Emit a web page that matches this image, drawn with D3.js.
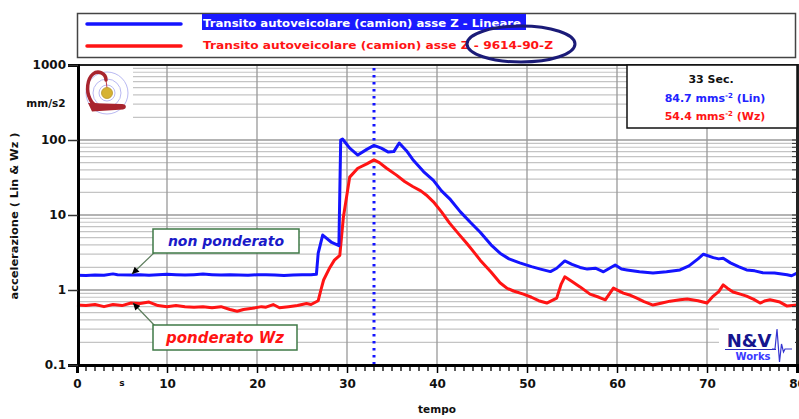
<!DOCTYPE html>
<html>
<head>
<meta charset="utf-8">
<script src="https://cdn.jsdelivr.net/npm/d3@7"></script>
<style>
  html, body { margin: 0; padding: 0; background: #fff; }
  svg { display: block; }
  text { font-family: "Comic Sans MS", "DejaVu Sans", sans-serif; font-weight: bold; }
</style>
</head>
<body>
<svg id="chart" width="799" height="419"></svg>
<script>
// ---- series: time (s) and acceleration (mm/s2) ----
const timeLin = [0, 1, 2, 3, 4, 4.5, 6, 7, 8, 9, 10, 11, 12, 13, 14, 15, 16, 17, 18, 19, 20, 21, 22, 23, 24, 25, 26, 26.6,
  26.8, 27.3, 28.3, 29.1, 29.3, 29.5, 30.3, 31.2, 32.2, 33, 33.8, 34.6, 35.2, 35.8, 36.6, 37.3, 38.5, 39.6, 40.5, 41.5,
  42.6, 43.7, 44.8, 46, 47, 48, 49.2, 50.5, 51.5, 52.6, 53.3, 54.2, 55, 55.9, 56.7, 57.6, 58.5, 59.8, 60.5, 61.1, 62.5,
  64, 65.5, 67, 68, 69, 69.6, 70.7, 71.3, 71.8, 72.6, 73.5, 74.4, 75.3, 76.2, 77.5, 78.9, 79.4, 80];
const accLin = [1.57, 1.56, 1.59, 1.57, 1.64, 1.6, 1.58, 1.6, 1.57, 1.6, 1.62, 1.6, 1.58, 1.6, 1.63, 1.6, 1.58, 1.6, 1.59, 1.57, 1.6, 1.6, 1.58, 1.56, 1.58, 1.6, 1.6, 1.62,
  3.1, 5.4, 4.3, 3.9, 100, 103, 78, 63, 75, 84.7, 78, 69, 70, 91, 72, 55, 38, 29, 21, 16,
  11, 8, 5.9, 4.0, 3.1, 2.6, 2.3, 2.05, 1.9, 1.76, 1.95, 2.44, 2.2, 2.0, 1.9, 1.95, 1.75, 2.15, 1.9, 1.85, 1.75,
  1.68, 1.75, 1.85, 2.1, 2.6, 3.0, 2.7, 2.6, 2.65, 2.3, 2.05, 1.85, 1.8, 1.7, 1.68, 1.6, 1.55, 1.68];

const timeWz = [0, 1, 2, 3, 4, 5, 6, 7, 8, 9, 10, 11, 12, 13, 14, 15, 16, 17, 17.8, 18.5, 19.5, 20.5, 21, 21.8, 22.5, 23.5, 24.5, 25.5, 26,
  26.8, 27.1, 27.4, 28.1, 28.6, 29.2, 29.6, 30.3, 31.2, 32.2, 33, 33.6, 34.4, 35.5, 36.4, 37.3, 38.2, 38.8, 39.6, 40.5, 41.4,
  42.4, 43.3, 44.1, 44.8, 46, 47, 47.8, 48.5, 49.6, 50.5, 51.3, 52.2, 53.3, 53.8, 54.2, 55, 55.9, 57, 58, 58.7, 59.6, 60.7,
  61.5, 62.2, 63, 64, 65, 65.9, 67, 67.8, 69, 70, 70.7, 71.3, 71.8, 72.3, 72.9, 73.7, 74.4, 75.2, 75.9, 76.5, 77, 78.1, 78.9, 80];
const accWz = [0.63, 0.62, 0.64, 0.6, 0.64, 0.62, 0.67, 0.66, 0.69, 0.62, 0.6, 0.62, 0.6, 0.59, 0.6, 0.58, 0.6, 0.55, 0.52, 0.55, 0.57, 0.6, 0.59, 0.64, 0.58, 0.6, 0.62, 0.66, 0.64,
  0.72, 1.0, 1.36, 2.0, 2.5, 2.9, 9.4, 32, 42, 48, 54.4, 50, 42, 34, 28, 24, 21, 18.5, 15, 11, 7.8,
  5.6, 4.2, 3.2, 2.5, 1.74, 1.25, 1.05, 0.97, 0.88, 0.8, 0.72, 0.67, 0.78, 1.2, 1.5, 1.3, 1.1, 0.88, 0.8, 0.74, 1.06, 0.91,
  0.85, 0.78, 0.7, 0.63, 0.67, 0.71, 0.74, 0.76, 0.72, 0.67, 0.83, 0.95, 1.17, 1.05, 0.94, 0.88, 0.83, 0.75, 0.67, 0.72, 0.74, 0.69, 0.61, 0.63];

// ---- axes / labels ----
const xTicks = [0, 10, 20, 30, 40, 50, 60, 70, 80];
const yTicks = [0.1, 1, 10, 100, 1000];
const yTickLabels = ["0.1", "1", "10", "100", "1000"];
const cursorTime = 33;
const legendLabels = ["Transito autoveicolare (camion) asse Z - Lineare",
                      "Transito autoveicolare (camion) asse Z - 9614-90-Z"];
const readoutTime = "33 Sec.";
const readoutLin = ["84.7", " (Lin)"];
const readoutWz = ["54.4", " (Wz)"];

const BLUE = "#1414ff", RED = "#ff1414";
const svg = d3.select("#chart");

const x = d3.scaleLinear().domain([0, 80]).range([77, 797]);
const y = d3.scaleLog().domain([0.1, 1000]).range([365, 65]);

// ---- grid ----
const grid = svg.append("g");
const minorY = [];
[0.1, 1, 10, 100].forEach(d => { for (let k = 2; k <= 9; k++) minorY.push(d * k); });
grid.selectAll(".ym").data(minorY).join("line")
  .attr("x1", x(0)).attr("x2", x(80))
  .attr("y1", d => y(d)).attr("y2", d => y(d))
  .attr("stroke", "#c4c4c4").attr("stroke-width", 1.2);
grid.selectAll(".yM").data([1, 10, 100]).join("line")
  .attr("x1", x(0)).attr("x2", x(80))
  .attr("y1", d => y(d)).attr("y2", d => y(d))
  .attr("stroke", "#9a9a9a").attr("stroke-width", 1.6);
grid.selectAll(".xM").data(xTicks.slice(1, -1)).join("line")
  .attr("x1", d => x(d)).attr("x2", d => x(d))
  .attr("y1", y(1000)).attr("y2", y(0.1))
  .attr("stroke", "#999").attr("stroke-width", 1.3);

// white panel behind the top-left emblem
svg.append("rect").attr("x", 79).attr("y", 66).attr("width", 54).attr("height", 60).attr("fill", "#fff");

// ---- cursor ----
svg.append("line")
  .attr("x1", x(cursorTime)).attr("x2", x(cursorTime))
  .attr("y1", y(1000) + 3).attr("y2", y(0.1))
  .attr("stroke", BLUE).attr("stroke-width", 3)
  .attr("stroke-dasharray", "2.5,4.5");

// ---- curves ----
const line = d3.line().x(d => x(d[0])).y(d => y(d[1]));
svg.append("path").datum(d3.zip(timeWz, accWz))
  .attr("d", line).attr("fill", "none").attr("stroke", RED)
  .attr("stroke-width", 3).attr("stroke-linejoin", "round");
svg.append("path").datum(d3.zip(timeLin, accLin))
  .attr("d", line).attr("fill", "none").attr("stroke", BLUE)
  .attr("stroke-width", 3).attr("stroke-linejoin", "round");

// ---- frame ----
svg.append("line").attr("x1", 77).attr("x2", 798).attr("y1", 65).attr("y2", 65)
  .attr("stroke", "#222").attr("stroke-width", 2);
svg.append("line").attr("x1", 797.5).attr("x2", 797.5).attr("y1", 64).attr("y2", 366)
  .attr("stroke", "#222").attr("stroke-width", 3);
// inner ticks on the right edge
svg.selectAll(".rt").data(minorY.concat([1, 10, 100])).join("line")
  .attr("x1", 792).attr("x2", 797).attr("y1", d => y(d)).attr("y2", d => y(d))
  .attr("stroke", "#333").attr("stroke-width", 1);

// bottom axis
const xAxis = d3.axisBottom(x).tickValues(xTicks).tickSize(8).tickPadding(6);
const gx = svg.append("g").attr("transform", "translate(0,365)").call(xAxis);
gx.select(".domain").attr("stroke", "#000").attr("stroke-width", 3);
gx.selectAll(".tick line").attr("stroke", "#000").attr("stroke-width", 1.5);
gx.selectAll(".tick text").attr("font-size", 12).attr("fill", "#111")
  .attr("font-family", "'Comic Sans MS','DejaVu Sans',sans-serif").attr("font-weight", "bold");
const minorX = d3.range(0, 81).filter(d => d % 10 !== 0);
svg.selectAll(".mx").data(minorX).join("line")
  .attr("x1", d => x(d)).attr("x2", d => x(d)).attr("y1", 365).attr("y2", 371)
  .attr("stroke", "#000").attr("stroke-width", 1.3);

// left axis
const yAxis = d3.axisLeft(y).tickValues(yTicks).tickFormat((d, i) => yTickLabels[i]).tickSize(10).tickPadding(2);
const gy = svg.append("g").attr("transform", "translate(78,0)").call(yAxis);
gy.select(".domain").attr("stroke", "#000").attr("stroke-width", 3);
gy.selectAll(".tick line").attr("stroke", "#333").attr("stroke-width", 1.5);
gy.selectAll(".tick text").attr("font-size", 12).attr("fill", "#111")
  .attr("font-family", "'Comic Sans MS','DejaVu Sans',sans-serif").attr("font-weight", "bold");

// axis titles
svg.append("text").attr("x", 46).attr("y", 107).attr("text-anchor", "middle")
  .attr("font-size", 10.5).attr("fill", "#111").text("mm/s2");
svg.append("text").attr("transform", "translate(18,216) rotate(-90)").attr("text-anchor", "middle")
  .attr("font-size", 10.5).attr("fill", "#111")
  .attr("textLength", 167).attr("lengthAdjust", "spacingAndGlyphs")
  .text("accelerazione ( Lin & Wz )");
svg.append("text").attr("x", x(5)).attr("y", 386).attr("text-anchor", "middle")
  .attr("font-size", 9).attr("fill", "#111").text("s");
svg.append("text").attr("x", 437).attr("y", 413).attr("text-anchor", "middle")
  .attr("font-size", 10.5).attr("fill", "#111").text("tempo");

// ---- legend ----
const lg = svg.append("g");
lg.append("rect").attr("x", 77.5).attr("y", 13.5).attr("width", 718).attr("height", 44)
  .attr("fill", "#fff").attr("stroke", "#444").attr("stroke-width", 1.5);
lg.append("line").attr("x1", 87).attr("x2", 181).attr("y1", 24).attr("y2", 24)
  .attr("stroke", BLUE).attr("stroke-width", 3.5).attr("stroke-linecap", "round");
lg.append("line").attr("x1", 87).attr("x2", 181).attr("y1", 46).attr("y2", 46)
  .attr("stroke", RED).attr("stroke-width", 3.5).attr("stroke-linecap", "round");
lg.append("rect").attr("x", 202).attr("y", 14).attr("width", 324).attr("height", 16).attr("fill", "#1a1aff");
lg.append("text").attr("x", 203).attr("y", 26.5).attr("font-size", 11).attr("fill", "#fff")
  .attr("textLength", 318).attr("lengthAdjust", "spacingAndGlyphs").text(legendLabels[0]);
lg.append("text").attr("x", 203).attr("y", 49).attr("font-size", 11).attr("fill", RED)
  .attr("textLength", 350).attr("lengthAdjust", "spacingAndGlyphs").text(legendLabels[1]);

// ---- readout box ----
const rb = svg.append("g");
rb.append("rect").attr("x", 627).attr("y", 65).attr("width", 170).attr("height", 63)
  .attr("fill", "#fff").attr("stroke", "#111").attr("stroke-width", 1.5);
rb.append("text").attr("x", 711).attr("y", 83).attr("text-anchor", "middle")
  .attr("font-size", 11).attr("fill", "#111").text(readoutTime);
const r1 = rb.append("text").attr("x", 715).attr("y", 102).attr("text-anchor", "middle")
  .attr("font-size", 11).attr("fill", "#2222ff");
r1.append("tspan").text(readoutLin[0] + " mms");
r1.append("tspan").attr("dy", -4).attr("font-size", 7).text("-2");
r1.append("tspan").attr("dy", 4).text(readoutLin[1]);
const r2 = rb.append("text").attr("x", 715).attr("y", 120).attr("text-anchor", "middle")
  .attr("font-size", 11).attr("fill", RED);
r2.append("tspan").text(readoutWz[0] + " mms");
r2.append("tspan").attr("dy", -4).attr("font-size", 7).text("-2");
r2.append("tspan").attr("dy", 4).text(readoutWz[1]);

// ---- callouts ----
const defs = svg.append("defs");
defs.append("marker").attr("id", "ah").attr("viewBox", "0 0 10 10")
  .attr("refX", 10).attr("refY", 5).attr("markerWidth", 9).attr("markerHeight", 7)
  .attr("markerUnits", "userSpaceOnUse").attr("orient", "auto")
  .append("path").attr("d", "M0,0 L10,5 L0,10 Z").attr("fill", "#000");

function callout(bx, by, bw, bh, label, color, fs, from, to) {
  svg.append("line").attr("x1", from[0]).attr("y1", from[1]).attr("x2", to[0]).attr("y2", to[1])
    .attr("stroke", "#5d7d5d").attr("stroke-width", 1.2).attr("marker-end", "url(#ah)");
  svg.append("rect").attr("x", bx).attr("y", by).attr("width", bw).attr("height", bh)
    .attr("fill", "#fff").attr("stroke", "#3f7a47").attr("stroke-width", 1.5);
  svg.append("text").attr("x", bx + bw / 2).attr("y", by + bh / 2 + fs * 0.35)
    .attr("text-anchor", "middle").attr("font-size", fs).attr("font-style", "italic")
    .attr("fill", color).text(label);
}
callout(153, 229, 146, 24, "non ponderato", "#1a1ac8", 14, [156, 251], [132, 274]);
callout(153, 325, 144, 25, "ponderato Wz", RED, 15, [156, 327], [133, 303]);

// ---- top-left emblem ----
const em = svg.append("g");
[21, 14, 8].forEach(r => em.append("circle").attr("cx", 107).attr("cy", 93).attr("r", r)
  .attr("fill", "none").attr("stroke", "#b9b9f2").attr("stroke-width", 1));
em.append("line").attr("x1", 107).attr("y1", 88).attr("x2", 106).attr("y2", 80)
  .attr("stroke", "#c0404a").attr("stroke-width", 1);
em.append("path").attr("d", "M106,80 C106,73 98,70 93,74 C87,79 86,91 90,99 C92,104 96,106 100,106")
  .attr("fill", "none").attr("stroke", "#a8242e").attr("stroke-width", 3.5).attr("stroke-linecap", "round");
em.append("path").attr("d", "M88,103 L122,104 C127,104 127,109 123,109.5 L92,111.5 Z").attr("fill", "#a8242e");
em.append("circle").attr("cx", 107).attr("cy", 93).attr("r", 5.5)
  .attr("fill", "#d6b232").attr("stroke", "#b8962a").attr("stroke-width", 0.8);

// ---- bottom-right emblem ----
const nv = svg.append("g");
nv.append("rect").attr("x", 719).attr("y", 326).attr("width", 76).attr("height", 38).attr("fill", "#fff");
nv.append("text").attr("x", 749).attr("y", 347).attr("text-anchor", "middle")
  .attr("font-family", "'Liberation Sans', Arial, sans-serif").attr("font-size", 18)
  .attr("fill", "#15158e").text("N&V");
nv.append("line").attr("x1", 725).attr("x2", 776).attr("y1", 349.5).attr("y2", 349.5)
  .attr("stroke", "#2a2ab8").attr("stroke-width", 1.2);
nv.append("text").attr("x", 753).attr("y", 359.5).attr("text-anchor", "middle")
  .attr("font-family", "'Liberation Sans', Arial, sans-serif").attr("font-weight", "normal")
  .attr("font-size", 10).attr("fill", "#3a3aff").text("Works");
nv.append("path").attr("d", "M772,349 L775,349 L777,329 L779.5,362 L781.5,344 L783.5,352 L785,349 L792,349")
  .attr("fill", "none").attr("stroke", "#3434d0").attr("stroke-width", 1.2);

// ---- ellipse highlighting the weighting-filter code ----
svg.append("ellipse").attr("cx", 521).attr("cy", 44).attr("rx", 54).attr("ry", 18)
  .attr("fill", "none").attr("stroke", "#1b1b78").attr("stroke-width", 3);
</script>
</body>
</html>
